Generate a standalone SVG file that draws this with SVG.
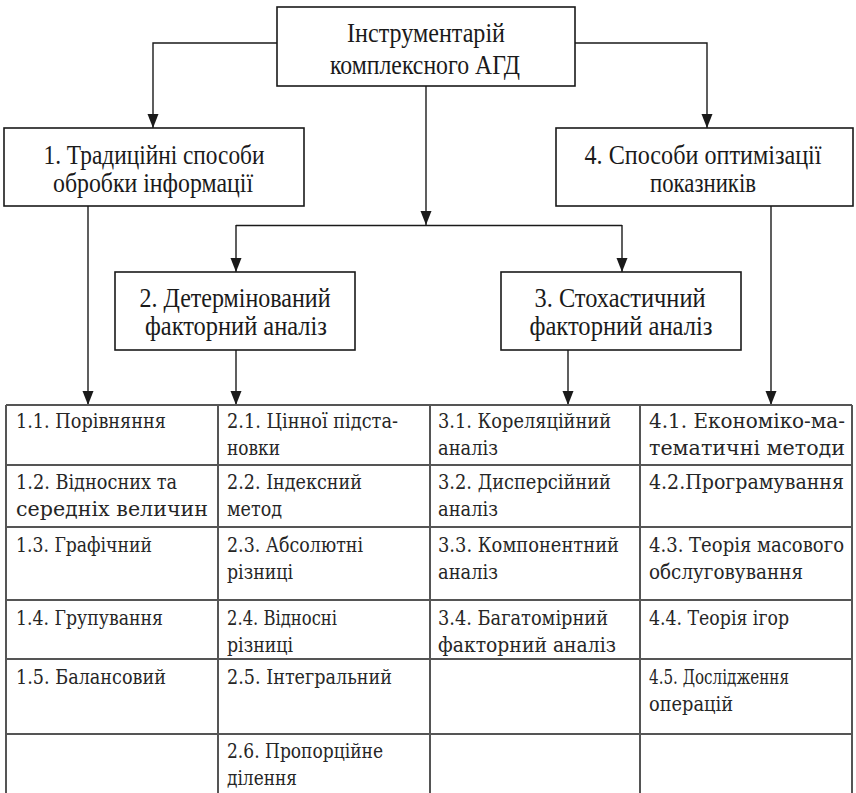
<svg xmlns="http://www.w3.org/2000/svg" width="856" height="793" viewBox="0 0 856 793">
  <defs>
    <marker id="arrow" markerUnits="userSpaceOnUse" markerWidth="14" markerHeight="12" refX="14" refY="5.5" orient="auto">
      <path d="M0,0 L14,5.5 L0,11 z" fill="#1a1a1a"/>
    </marker>
    <style>
      .box { fill: #fff; stroke: #1a1a1a; stroke-width: 1.6; }
      .btxt { font-family: "Liberation Serif", "Times New Roman", serif; font-size: 27px; fill: #1a1a1a; text-anchor: middle; }
      .conn { fill: none; stroke: #1a1a1a; stroke-width: 1.4; }
      .conn.arr { marker-end: url(#arrow); }
      .grid { stroke: #555; stroke-width: 2; fill: none; }
      .ttxt { font-family: "DejaVu Serif", "Liberation Serif", serif; font-size: 20.5px; fill: #262626; }
    </style>
  </defs>

  <rect width="856" height="793" fill="#fff"/>

  <!-- connectors -->
  <g id="connectors">
    <path class="conn arr" d="M277,43 H153 V128"/>
    <path class="conn arr" d="M575,43 H707 V128"/>
    <path class="conn arr" d="M426,86 V225"/>
    <path class="conn" d="M236,225.5 H622"/>
    <path class="conn arr" d="M236,225 V272"/>
    <path class="conn arr" d="M622,225 V272"/>
    <path class="conn arr" d="M88,206 V405"/>
    <path class="conn arr" d="M236,350 V405"/>
    <path class="conn arr" d="M568,350 V405"/>
    <path class="conn arr" d="M771,206 V405"/>
  </g>

  <!-- root -->
  <g id="node-root">
    <rect class="box" x="277" y="7" width="298" height="79"/>
    <text class="btxt" x="426" y="42" textLength="158" lengthAdjust="spacingAndGlyphs">Інструментарій</text>
    <text class="btxt" x="425" y="74" textLength="190" lengthAdjust="spacingAndGlyphs">комплексного АГД</text>
  </g>

  <g id="node-1">
    <rect class="box" x="4" y="128" width="300" height="78"/>
    <text class="btxt" x="154" y="164" textLength="221" lengthAdjust="spacingAndGlyphs">1. Традиційні способи</text>
    <text class="btxt" x="153" y="192" textLength="200" lengthAdjust="spacingAndGlyphs">обробки інформації</text>
  </g>

  <g id="node-4">
    <rect class="box" x="556" y="128" width="297" height="78"/>
    <text class="btxt" x="703" y="164" textLength="237" lengthAdjust="spacingAndGlyphs">4. Способи оптимізації</text>
    <text class="btxt" x="703" y="192" textLength="106" lengthAdjust="spacingAndGlyphs">показників</text>
  </g>

  <g id="node-2">
    <rect class="box" x="115" y="272" width="240" height="78"/>
    <text class="btxt" x="235" y="307" textLength="191" lengthAdjust="spacingAndGlyphs">2. Детермінований</text>
    <text class="btxt" x="236" y="335" textLength="182" lengthAdjust="spacingAndGlyphs">факторний аналіз</text>
  </g>

  <g id="node-3">
    <rect class="box" x="501" y="272" width="240" height="78"/>
    <text class="btxt" x="620" y="307" textLength="171" lengthAdjust="spacingAndGlyphs">3. Стохастичний</text>
    <text class="btxt" x="621" y="335" textLength="183" lengthAdjust="spacingAndGlyphs">факторний аналіз</text>
  </g>

  <!-- methods table -->
  <g id="table">
    <g class="grid">
      <path d="M6,405 H852 M6,465 H852 M6,527 H852 M6,600 H852 M6,659 H852 M6,734 H852"/>
      <path d="M6,405 V793 M218,405 V793 M430,405 V793 M640,405 V793 M852,405 V793"/>
    </g>
    <g class="ttxt">
      <!-- column 1 -->
      <text x="16" y="428" textLength="150" lengthAdjust="spacingAndGlyphs">1.1. Порівняння</text>
      <text x="16" y="489" textLength="161" lengthAdjust="spacingAndGlyphs">1.2. Відносних та</text>
      <text x="16" y="516" textLength="192" lengthAdjust="spacingAndGlyphs">середніх величин</text>
      <text x="16" y="552" textLength="136" lengthAdjust="spacingAndGlyphs">1.3. Графічний</text>
      <text x="16" y="625" textLength="147" lengthAdjust="spacingAndGlyphs">1.4. Групування</text>
      <text x="16" y="684" textLength="150" lengthAdjust="spacingAndGlyphs">1.5. Балансовий</text>
      <!-- column 2 -->
      <text x="227" y="428" textLength="171" lengthAdjust="spacingAndGlyphs">2.1. Цінної підста-</text>
      <text x="227" y="455" textLength="53" lengthAdjust="spacingAndGlyphs">новки</text>
      <text x="227" y="489" textLength="135" lengthAdjust="spacingAndGlyphs">2.2. Індексний</text>
      <text x="227" y="516" textLength="55" lengthAdjust="spacingAndGlyphs">метод</text>
      <text x="227" y="552" textLength="136" lengthAdjust="spacingAndGlyphs">2.3. Абсолютні</text>
      <text x="227" y="579" textLength="66" lengthAdjust="spacingAndGlyphs">різниці</text>
      <text x="227" y="625" textLength="110" lengthAdjust="spacingAndGlyphs">2.4. Відносні</text>
      <text x="227" y="652" textLength="66" lengthAdjust="spacingAndGlyphs">різниці</text>
      <text x="227" y="684" textLength="165" lengthAdjust="spacingAndGlyphs">2.5. Інтегральний</text>
      <text x="227" y="758" textLength="156" lengthAdjust="spacingAndGlyphs">2.6. Пропорційне</text>
      <text x="227" y="785" textLength="70" lengthAdjust="spacingAndGlyphs">ділення</text>
      <!-- column 3 -->
      <text x="438" y="428" textLength="173" lengthAdjust="spacingAndGlyphs">3.1. Кореляційний</text>
      <text x="438" y="455" textLength="60" lengthAdjust="spacingAndGlyphs">аналіз</text>
      <text x="438" y="489" textLength="173" lengthAdjust="spacingAndGlyphs">3.2. Дисперсійний</text>
      <text x="438" y="516" textLength="60" lengthAdjust="spacingAndGlyphs">аналіз</text>
      <text x="438" y="552" textLength="181" lengthAdjust="spacingAndGlyphs">3.3. Компонентний</text>
      <text x="438" y="579" textLength="60" lengthAdjust="spacingAndGlyphs">аналіз</text>
      <text x="438" y="625" textLength="170" lengthAdjust="spacingAndGlyphs">3.4. Багатомірний</text>
      <text x="438" y="652" textLength="178" lengthAdjust="spacingAndGlyphs">факторний аналіз</text>
      <!-- column 4 -->
      <text x="649" y="428" textLength="196" lengthAdjust="spacingAndGlyphs">4.1. Економіко-ма-</text>
      <text x="649" y="455" textLength="196" lengthAdjust="spacingAndGlyphs">тематичні методи</text>
      <text x="649" y="489" textLength="195" lengthAdjust="spacingAndGlyphs">4.2.Програмування</text>
      <text x="649" y="552" textLength="195" lengthAdjust="spacingAndGlyphs">4.3. Теорія масового</text>
      <text x="649" y="579" textLength="154" lengthAdjust="spacingAndGlyphs">обслуговування</text>
      <text x="649" y="625" textLength="140" lengthAdjust="spacingAndGlyphs">4.4. Теорія ігор</text>
      <text x="649" y="684" textLength="140" lengthAdjust="spacingAndGlyphs">4.5. Дослідження</text>
      <text x="649" y="711" textLength="84" lengthAdjust="spacingAndGlyphs">операцій</text>
    </g>
  </g>
</svg>
